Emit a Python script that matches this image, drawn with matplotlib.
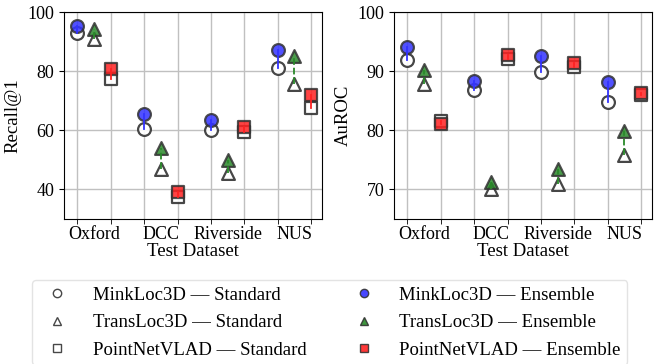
import numpy as np
import matplotlib
matplotlib.use("Agg")
import matplotlib.pyplot as plt
from matplotlib.lines import Line2D

plt.rcParams['font.family'] = ['Liberation Serif', 'DejaVu Serif']

datasets = ['Oxford', 'DCC', 'Riverside', 'NUS']
models = ['MinkLoc3D', 'TransLoc3D', 'PointNetVLAD']

# Recall@1, per model, per dataset
recall_std = {
    'MinkLoc3D': [93.0, 60.3, 60.2, 81.0],
    'TransLoc3D': [90.8, 46.9, 45.5, 75.7],
    'PointNetVLAD': [77.4, 37.3, 59.5, 67.6],
}
recall_ens = {
    'MinkLoc3D': [95.3, 65.5, 63.4, 87.3],
    'TransLoc3D': [94.3, 53.9, 49.8, 85.2],
    'PointNetVLAD': [80.6, 39.0, 61.0, 72.1],
}

# AuROC
auroc_std = {
    'MinkLoc3D': [91.9, 86.8, 89.9, 84.8],
    'TransLoc3D': [87.9, 70.0, 71.0, 75.9],
    'PointNetVLAD': [81.6, 92.0, 90.7, 86.0],
}
auroc_ens = {
    'MinkLoc3D': [94.1, 88.4, 92.5, 88.1],
    'TransLoc3D': [90.2, 71.2, 73.5, 79.8],
    'PointNetVLAD': [81.1, 92.7, 91.4, 86.3],
}

markers = {'MinkLoc3D': 'o', 'TransLoc3D': '^', 'PointNetVLAD': 's'}
colors = {'MinkLoc3D': '#3333ff', 'TransLoc3D': '#2a8a2a', 'PointNetVLAD': '#ff2222'}
linestyles = {'MinkLoc3D': '-', 'TransLoc3D': '--', 'PointNetVLAD': '-'}
edge = '#333333'

fig = plt.figure(figsize=(6.59, 3.64), dpi=100)
ax1 = fig.add_axes([64 / 659, 1 - 219 / 364, 258 / 659, 207 / 364])
ax2 = fig.add_axes([394 / 659, 1 - 219 / 364, 258 / 659, 207 / 364])


def draw(ax, std, ens, ylabel, ylim, yticks):
    positions = []
    for i, m in enumerate(models):
        xs = np.arange(len(datasets)) * 4 + i
        positions.extend(xs)
        ax.scatter(xs, std[m], marker=markers[m], s=85, facecolor='white',
                   edgecolor=edge, linewidth=1.6, alpha=0.9, zorder=3)
        ax.scatter(xs, ens[m], marker=markers[m], s=85, facecolor=colors[m],
                   edgecolor=edge, linewidth=1.6, alpha=0.85, zorder=3)
        for x, a, b in zip(xs, std[m], ens[m]):
            ax.plot([x, x], [a, b], color=colors[m], ls=linestyles[m],
                    lw=1.3, zorder=4)
    ax.set_xticks(sorted(positions), minor=True)
    ax.set_xticks(np.arange(len(datasets)) * 4 + 1)
    ax.set_xticklabels(datasets, fontsize=13)
    ax.tick_params(axis='x', which='major', length=0, pad=5)
    ax.tick_params(axis='x', which='minor', length=3.5)
    ax.set_xlim(-0.8, 14.65)
    ax.set_ylim(*ylim)
    ax.set_yticks(yticks)
    ax.tick_params(axis='y', labelsize=13)
    ax.grid(True, which='minor', axis='x', color='#c0c0c0', lw=1)
    ax.grid(True, which='major', axis='y', color='#c0c0c0', lw=1)
    ax.set_axisbelow(True)
    ax.set_xlabel('Test Dataset', fontsize=13.5, labelpad=0)
    ax.set_ylabel(ylabel, fontsize=13.5)


draw(ax1, recall_std, recall_ens, 'Recall@1', (30, 100), [40, 60, 80, 100])
draw(ax2, auroc_std, auroc_ens, 'AuROC', (65, 100), [70, 80, 90, 100])

handles = []
labels = []
for kind in ['Standard', 'Ensemble']:
    for m in models:
        fc = 'white' if kind == 'Standard' else colors[m]
        handles.append(Line2D([], [], ls='', marker=markers[m], markersize=6,
                              markerfacecolor=fc, markeredgecolor=edge,
                              markeredgewidth=1.0, alpha=0.9))
        labels.append(f'{m} \u2014 {kind}')

fig.legend(handles, labels, ncol=2, loc='upper left',
           bbox_to_anchor=(32 / 659, 1 - 280 / 364), borderaxespad=0,
           fontsize=13.5, frameon=True, edgecolor='#dddddd',
           handletextpad=0.9, columnspacing=2.05, labelspacing=0.55,
           borderpad=0.35)

fig.savefig('out.png', dpi=100)
